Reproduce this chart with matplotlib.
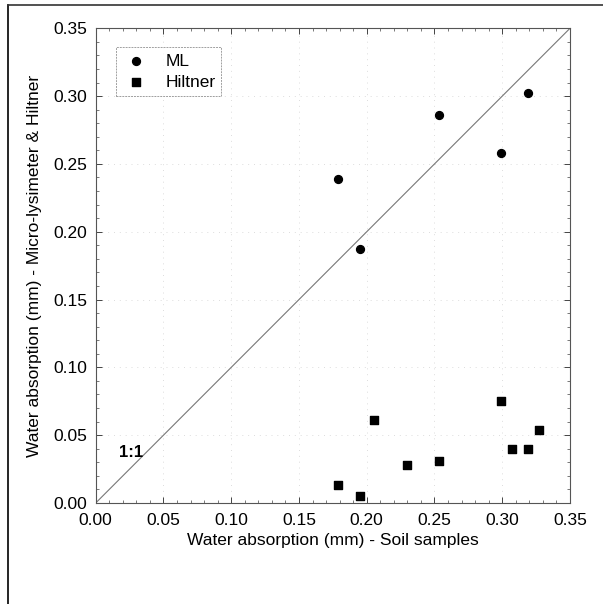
import matplotlib
matplotlib.use("Agg")
import matplotlib.pyplot as plt
from matplotlib.lines import Line2D
from matplotlib.ticker import MultipleLocator

plt.rcParams['font.family'] = ['Liberation Sans', 'DejaVu Sans']

# valores
ml_x = [0.179, 0.195, 0.253, 0.299, 0.319]
ml_y = [0.239, 0.187, 0.286, 0.258, 0.302]

hil_x = [0.179, 0.195, 0.205, 0.230, 0.253, 0.299, 0.307, 0.319, 0.327]
hil_y = [0.013, 0.005, 0.061, 0.028, 0.031, 0.075, 0.040, 0.040, 0.054]

ticks = [0.00, 0.05, 0.10, 0.15, 0.20, 0.25, 0.30, 0.35]

fig = plt.figure(figsize=(6.03, 6.04), dpi=100)
ax = fig.add_axes([95.7 / 603, 1 - 503 / 604, (570 - 95.7) / 603, (503 - 28.3) / 604])

# moldura da figura (so topo e lado esquerdo aparecem)
fig.add_artist(Line2D([8 / 603, 8 / 603], [0, 1 - 5 / 604], transform=fig.transFigure, color='black', lw=1.2))
fig.add_artist(Line2D([8 / 603, 1], [1 - 5 / 604, 1 - 5 / 604], transform=fig.transFigure, color='#333333', lw=1.2))

# linha 1:1
ax.plot([0, 0.35], [0, 0.35], color='#777777', lw=0.8, zorder=2)

ax.scatter(ml_x, ml_y, marker='o', s=32, color='black', zorder=3, label='ML')
ax.scatter(hil_x, hil_y, marker='s', s=34, color='black', zorder=3, label='Hiltner')

ax.text(0.0172, 0.0376, '1:1', fontsize=12, fontweight='bold', va='center', ha='left')

ax.set_xlim(0, 0.35)
ax.set_ylim(0, 0.35)
ax.set_xticks(ticks)
ax.set_yticks(ticks)
ax.set_xticklabels([f"{t:.2f}" for t in ticks])
ax.set_yticklabels([f"{t:.2f}" for t in ticks])
ax.xaxis.set_minor_locator(MultipleLocator(0.01))
ax.yaxis.set_minor_locator(MultipleLocator(0.01))
ax.tick_params(which='both', direction='in', top=True, right=True, labelsize=12.5, color='#444444')
ax.tick_params(which='major', length=4, width=0.7)
ax.tick_params(which='minor', length=2, width=0.5)
ax.tick_params(axis='x', which='major', pad=7)
ax.tick_params(axis='y', which='major', pad=6)

ax.grid(True, which='major', color='#dddddd', linestyle=(0, (1, 5)), lw=0.7)
ax.set_axisbelow(True)

for s in ax.spines.values():
    s.set_color('#555555')
    s.set_linewidth(0.8)

ax.set_xlabel('Water absorption (mm) - Soil samples', fontsize=12.5, labelpad=4)
ax.set_ylabel('Water absorption (mm) - Micro-lysimeter & Hiltner', fontsize=12.5, labelpad=8)

leg = ax.legend(loc='upper left', bbox_to_anchor=(20 / 474.3, 1 - 19 / 474.7), fontsize=12.5,
                frameon=True, fancybox=False, borderaxespad=0, handletextpad=0.9,
                borderpad=0.35, labelspacing=0.35, handlelength=1.6, markerscale=1.0)
leg.get_frame().set_edgecolor('#888888')
leg.get_frame().set_linewidth(0.7)
leg.get_frame().set_linestyle((0, (2, 1)))

fig.savefig('out.png', dpi=100)
